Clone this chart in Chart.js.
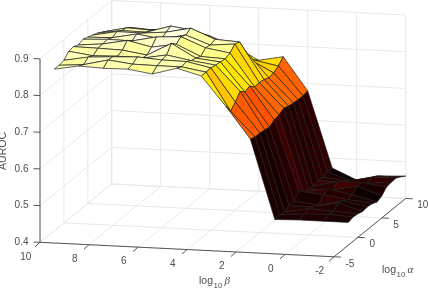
<!DOCTYPE html>
<html>
<head>
<meta charset="utf-8">
<title>AUROC surface</title>
<script src="https://cdn.jsdelivr.net/npm/chart.js@4"></script>
<style>
  html, body { margin: 0; padding: 0; background: #fff; overflow: hidden; }
  canvas { display: block; }
</style>
</head>
<body>
<canvas id="myChart" width="428" height="290"></canvas>
<script>
'use strict';
// log10 alpha and log10 beta values of the grid
const alphas = [-2, -1, 0, 1, 2, 3, 4, 5, 6, 7, 8, 9, 10];
const betas = [-2, -1, 0, 1, 2, 3, 4, 5, 6, 7, 8, 9, 10];

// AUROC, one list per beta, same order as alphas
const aurocBetaM2 = [0.462, 0.466, 0.464, 0.460, 0.462, 0.460, 0.454, 0.460, 0.474, 0.476, 0.477, 0.470, 0.461];
const aurocBetaM1 = [0.462, 0.470, 0.468, 0.480, 0.475, 0.468, 0.470, 0.483, 0.482, 0.470, 0.475, 0.468, 0.458];
const aurocBeta0 = [0.462, 0.468, 0.472, 0.466, 0.460, 0.478, 0.484, 0.470, 0.482, 0.470, 0.462, 0.452, 0.444];
const aurocBeta1 = [0.460, 0.462, 0.459, 0.465, 0.468, 0.485, 0.471, 0.469, 0.466, 0.470, 0.470, 0.473, 0.473];
const aurocBeta2 = [0.676, 0.671, 0.671, 0.669, 0.666, 0.675, 0.678, 0.686, 0.681, 0.679, 0.677, 0.677, 0.680];
const aurocBeta3 = [0.762, 0.738, 0.752, 0.771, 0.758, 0.764, 0.751, 0.752, 0.750, 0.744, 0.747, 0.755, 0.770];
const aurocBeta4 = [0.841, 0.841, 0.842, 0.839, 0.837, 0.835, 0.840, 0.854, 0.849, 0.817, 0.781, 0.768, 0.757];
const aurocBeta5 = [0.859, 0.852, 0.856, 0.848, 0.844, 0.838, 0.851, 0.848, 0.853, 0.838, 0.816, 0.803, 0.792];
const aurocBeta6 = [0.840, 0.852, 0.857, 0.860, 0.881, 0.868, 0.878, 0.872, 0.880, 0.862, 0.846, 0.830, 0.817];
const aurocBeta7 = [0.850, 0.853, 0.862, 0.848, 0.846, 0.857, 0.874, 0.858, 0.866, 0.872, 0.853, 0.840, 0.829];
const aurocBeta8 = [0.849, 0.861, 0.859, 0.850, 0.856, 0.872, 0.860, 0.868, 0.860, 0.852, 0.847, 0.836, 0.824];
const aurocBeta9 = [0.852, 0.845, 0.855, 0.848, 0.858, 0.859, 0.861, 0.855, 0.861, 0.853, 0.850, 0.840, 0.826];
const aurocBeta10 = [0.840, 0.840, 0.843, 0.857, 0.859, 0.853, 0.858, 0.853, 0.848, 0.843, 0.835, 0.826, 0.817];
const auroc = [aurocBetaM2, aurocBetaM1, aurocBeta0, aurocBeta1, aurocBeta2, aurocBeta3, aurocBeta4,
  aurocBeta5, aurocBeta6, aurocBeta7, aurocBeta8, aurocBeta9, aurocBeta10];

// tick labels
const betaTicks = [10, 8, 6, 4, 2, 0, -2];
const alphaTicks = [-5, 0, 5, 10];
const aurocTicks = [0.4, 0.5, 0.6, 0.7, 0.8, 0.9];

const betaMax = 10, betaMin = -2, alphaMin = -5, alphaMax = 10, aurocMin = 0.4, aurocMax = 0.9;
const colorMin = 0.45, colorMax = 0.885;

// fixed orthographic view, the same one for every mark
function view(beta, alpha, z) {
  return {
    x: 40 + (betaMax - beta) * 24.5 + (alpha - alphaMin) * 4.78,
    y: 242.3 + (betaMax - beta) * 1.208 - (alpha - alphaMin) * 3.887 - (z - aurocMin) * 367
  };
}

// matlab hot colormap
function hot(z) {
  let t = (z - colorMin) / (colorMax - colorMin);
  t = Math.max(0, Math.min(1, t));
  const r = Math.min(1, 0.04 + t / 0.375);
  const g = Math.max(0, Math.min(1, (t - 0.375) / 0.375));
  const b = Math.max(0, (t - 0.75) / 0.25);
  return `rgb(${Math.round(r * 255)},${Math.round(g * 255)},${Math.round(b * 255)})`;
}

function lineSet(points, color, width) {
  return {
    data: points, showLine: true, fill: false, pointRadius: 0, borderColor: color,
    borderWidth: width, tension: 0
  };
}

const datasets = [];

// surface cells, front ones first since chart.js paints the first dataset last
for (let a = 0; a < alphas.length - 1; a++) {
  for (let b = 0; b < betas.length - 1; b++) {
    const corners = [
      view(betas[b], alphas[a], auroc[b][a]),
      view(betas[b + 1], alphas[a], auroc[b + 1][a]),
      view(betas[b + 1], alphas[a + 1], auroc[b + 1][a + 1]),
      view(betas[b], alphas[a + 1], auroc[b][a + 1])
    ];
    corners.push(corners[0]);
    datasets.push({
      data: corners, showLine: true, fill: 'shape', pointRadius: 0, tension: 0,
      backgroundColor: hot(auroc[b][a]), borderColor: '#1c1c1c', borderWidth: 0.7
    });
  }
}

// axis lines and ticks
const axisColor = '#555555';
datasets.push(lineSet([view(betaMax, alphaMin, aurocMin), view(betaMax, alphaMin, aurocMax)], axisColor, 1));
datasets.push(lineSet([view(betaMax, alphaMin, aurocMin), view(betaMin, alphaMin, aurocMin)], axisColor, 1));
datasets.push(lineSet([view(betaMin, alphaMin, aurocMin), view(betaMin, alphaMax, aurocMin)], axisColor, 1));
aurocTicks.forEach(t => {
  const p = view(betaMax, alphaMin, t);
  datasets.push(lineSet([p, { x: p.x - 6.5, y: p.y - 0.2 }], axisColor, 1));
});
betaTicks.forEach(t => {
  const p = view(t, alphaMin, aurocMin);
  datasets.push(lineSet([p, { x: p.x - 5, y: p.y + 4.5 }], axisColor, 1));
});
alphaTicks.forEach(t => {
  const p = view(betaMin, t, aurocMin);
  datasets.push(lineSet([p, { x: p.x + 7, y: p.y + 0.3 }], axisColor, 1));
});

// grid on the floor and the two back walls
const gridColor = '#e8e8e8';
betaTicks.forEach(t => {
  datasets.push(lineSet([view(t, alphaMin, aurocMin), view(t, alphaMax, aurocMin), view(t, alphaMax, aurocMax)], gridColor, 1));
});
alphaTicks.forEach(t => {
  datasets.push(lineSet([view(betaMin, t, aurocMin), view(betaMax, t, aurocMin), view(betaMax, t, aurocMax)], gridColor, 1));
});
aurocTicks.forEach(t => {
  datasets.push(lineSet([view(betaMax, alphaMin, t), view(betaMax, alphaMax, t), view(betaMin, alphaMax, t)], gridColor, 1));
});

const textColor = '#4d4d4d';
const sansFont = '"Liberation Sans", Helvetica, Arial, sans-serif';
const serifFont = '"Liberation Serif", "Times New Roman", serif';

// log10 + greek letter label, base of the text at (x, y)
function logLabel(ctx, x, y, letter, subDrop) {
  ctx.textAlign = 'left';
  ctx.textBaseline = 'alphabetic';
  ctx.font = `10.5px ${sansFont}`;
  ctx.fillText('log', x, y);
  ctx.font = `8px ${sansFont}`;
  ctx.fillText('10', x + 14.5, y + subDrop);
  ctx.font = `italic 11px ${serifFont}`;
  ctx.fillText(letter, x + 25.5, y - 0.5);
}

const axisText = {
  id: 'axisText',
  afterDraw(chart) {
    const ctx = chart.ctx;
    ctx.save();
    ctx.fillStyle = textColor;
    ctx.font = `10px ${sansFont}`;
    ctx.textBaseline = 'middle';

    ctx.textAlign = 'right';
    aurocTicks.forEach(t => {
      const p = view(betaMax, alphaMin, t);
      ctx.fillText(t.toFixed(1), p.x - 11.5, p.y);
    });

    ctx.textAlign = 'center';
    betaTicks.forEach(t => {
      const p = view(t, alphaMin, aurocMin);
      ctx.fillText(String(t), p.x - 14.3, p.y + 14.6);
    });

    ctx.textAlign = 'left';
    alphaTicks.forEach(t => {
      const p = view(betaMin, t, aurocMin);
      ctx.fillText(String(t), p.x + 11.5, p.y + 7.2);
    });

    logLabel(ctx, 199, 284, '\u03B2', 4);
    logLabel(ctx, 382, 273, '\u03B1', 4);

    ctx.translate(6, 151);
    ctx.rotate(-Math.PI / 2);
    ctx.textAlign = 'center';
    ctx.font = `10.5px ${sansFont}`;
    ctx.fillText('AUROC', 0, 0);
    ctx.restore();
  }
};

new Chart(document.getElementById('myChart').getContext('2d'), {
  type: 'scatter',
  data: { datasets: datasets },
  plugins: [axisText],
  options: {
    responsive: false,
    animation: false,
    layout: { padding: 0 },
    plugins: { legend: { display: false }, tooltip: { enabled: false } },
    scales: {
      x: { type: 'linear', display: false, min: 0, max: 428 },
      y: { type: 'linear', display: false, min: 0, max: 290, reverse: true }
    }
  }
});
</script>
</body>
</html>
